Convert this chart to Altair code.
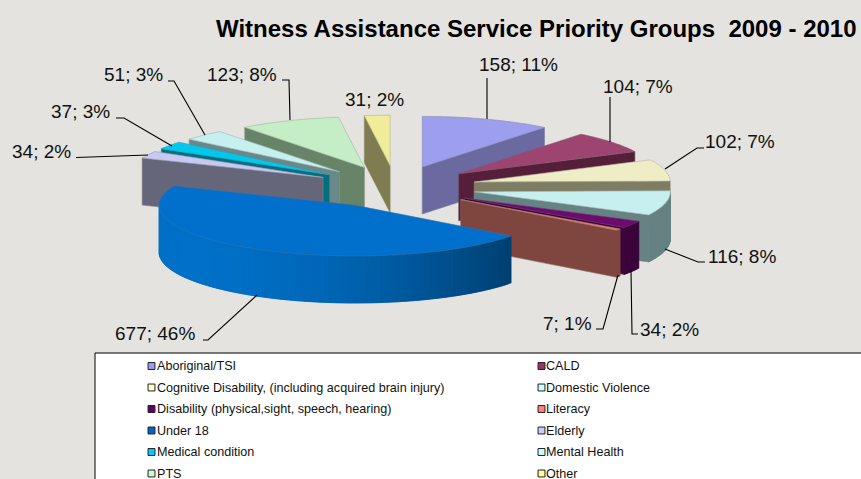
import math
import altair as alt
import pandas as pd

# Slice data, clockwise from twelve o'clock
categories = ["Aboriginal/TSI", "CALD", "Cognitive Disability, (including acquired brain injury)",
              "Domestic Violence", "Disability (physical,sight, speech, hearing)", "Literacy",
              "Under 18", "Elderly", "Medical condition", "Mental Health", "PTS", "Other"]
values = [158, 104, 102, 116, 34, 7, 677, 34, 37, 51, 123, 31]
percents = [11, 7, 7, 8, 2, 1, 46, 2, 3, 3, 8, 2]
top_colors = ["#9E9EEE", "#9E4470", "#EFEDC6", "#C6F0F0", "#6D0A6D", "#E88070",
              "#0070CC", "#C8C8F0", "#00C8EE", "#C6F0F0", "#C6EEC6", "#F0EC9A"]
side_colors = ["#6A6AA0", "#551F3A", "#7E7C62", "#668282", "#3A043A", "#7F4640",
               "#004A85", "#66667A", "#006F80", "#6A8888", "#688468", "#7E7C50"]
legend_colors = ["#9999FF", "#993366", "#FFFFCC", "#CCFFFF", "#660066", "#FF8080",
                 "#0066CC", "#CCCCFF", "#00CCFF", "#CCFFFF", "#CCFFCC", "#FFFF99"]

# Text placement of the value labels: left edge and vertical centre
label_x = [479, 603, 705, 708, 640, 543, 115, 12, 51, 104, 207, 345]
label_y = [65, 87, 142, 257, 330, 324, 334, 152, 112, 75, 75, 100]

# Leader lines as (x, y) vertices; the small "Other" slice has none
leaders = [
    [(487, 78), (487, 119)],
    [(610, 97), (610, 142)],
    [(704, 148), (697, 148), (665, 169)],
    [(705, 262), (698, 262), (665, 249)],
    [(638, 334), (632, 334), (631, 270)],
    [(596, 329), (603, 329), (618, 275)],
    [(203, 340), (208, 340), (257, 295)],
    [(76, 157.5), (148, 155)],
    [(116, 118), (124, 118), (172, 146)],
    [(168, 81), (174, 81), (205, 135)],
    [(282, 80), (289, 80), (290, 120)],
]

# Pie geometry in canvas pixels
CX, CY = 395.5, 187.0
RX, RY = 196.0, 50.6
EX, EY = 81.0, 21.2
DEPTH = 47.0
W, H = 861, 479


def rim(ax, ay, deg):
    t = math.radians(deg)
    return (ax + RX * math.sin(t), ay - RY * math.cos(t))


def poly(points, fill, stroke):
    ring = [[round(x, 2), round(y, 2)] for x, y in points]
    ring.append(ring[0])
    return {"type": "Feature",
            "geometry": {"type": "Polygon", "coordinates": [ring]},
            "properties": {"fill": fill, "stroke": stroke}}


def mix(c1, c2, f):
    a = [int(c1[i:i + 2], 16) for i in (1, 3, 5)]
    b = [int(c2[i:i + 2], 16) for i in (1, 3, 5)]
    return "#%02x%02x%02x" % tuple(round(p + (q - p) * f) for p, q in zip(a, b))


total = sum(values)
slices = []
cum = 0
for i, v in enumerate(values):
    a0 = cum / total * 360
    cum += v
    a1 = cum / total * 360
    slices.append((i, a0, a1, (a0 + a1) / 2))

features = []
# Nearer slices are painted over the ones behind them
for i, a0, a1, mid in sorted(slices, key=lambda s: -math.cos(math.radians(s[3]))):
    ax = CX + EX * math.sin(math.radians(mid))
    ay = CY - EY * math.cos(math.radians(mid))
    side = side_colors[i]
    steps = max(2, int((a1 - a0) / 1.5))
    angles = [a0 + (a1 - a0) * k / steps for k in range(steps + 1)]
    # radial walls that face the viewer
    for deg, visible in ((a0, math.sin(math.radians(a0)) < -1e-6),
                         (a1, math.sin(math.radians(a1)) > 1e-6)):
        if visible:
            px, py = rim(ax, ay, deg)
            features.append(poly([(ax, ay), (px, py), (px, py + DEPTH), (ax, ay + DEPTH)], side,
                                 mix(side, "#A0A09A", 0.35)))
    # outer wall, front half only; each strip overlaps the next to hide seams
    front = [d for d in angles if 90 <= d <= 270]
    for k in range(len(front) - 1):
        d0, d1 = front[k], front[min(k + 2, len(front) - 1)]
        p0, p1 = rim(ax, ay, d0), rim(ax, ay, d1)
        fill = side
        if i == 6:
            f = (p0[0] - (CX - RX)) / (2 * RX * 0.9)
            fill = mix("#0070C8", "#00355E", max(0, min(1, f)) ** 1.7)
        features.append(poly([p0, p1, (p1[0], p1[1] + DEPTH), (p0[0], p0[1] + DEPTH)], fill, fill))
    # top face
    features.append(poly([(ax, ay)] + [rim(ax, ay, d) for d in angles], top_colors[i],
                         mix(top_colors[i], "#707070", 0.45)))

x_scale = alt.Scale(domain=[0, W], range=[0, W], nice=False, zero=False)
y_scale = alt.Scale(domain=[0, H], range=[0, H], nice=False, zero=False)
X = lambda f: alt.X(f, type="quantitative", scale=x_scale, axis=None)
Y = lambda f: alt.Y(f, type="quantitative", scale=y_scale, axis=None)

pie = alt.Chart(alt.InlineData(values=features)).mark_geoshape(strokeWidth=0.6).encode(
    fill=alt.Fill("properties.fill:N", scale=None, legend=None),
    stroke=alt.Stroke("properties.stroke:N", scale=None, legend=None),
).project(type="identity", scale=1, translate=[0, 0])

leader_rows = [{"id": n, "o": k, "x": p[0], "y": p[1]}
               for n, line in enumerate(leaders) for k, p in enumerate(line)]
leader_layer = alt.Chart(pd.DataFrame(leader_rows)).mark_line(color="#000000", strokeWidth=1.1).encode(
    x=X("x"), y=Y("y"), detail="id:N", order="o:Q")

label_df = pd.DataFrame({
    "t": [f"{v}; {p}%" for v, p in zip(values, percents)],
    "x": label_x, "y": label_y})
label_layer = alt.Chart(label_df).mark_text(
    align="left", baseline="middle", font="Liberation Sans", fontSize=19, color="#111111"
).encode(x=X("x"), y=Y("y"), text="t:N")

title_df = pd.DataFrame({"t": ["Witness Assistance Service Priority Groups\u00a0\u00a02009 - 2010"], "x": [216], "y": [30]})
title_layer = alt.Chart(title_df).mark_text(
    align="left", baseline="middle", font="Liberation Sans", fontSize=24, fontWeight="bold", color="#000000"
).encode(x=X("x"), y=Y("y"), text="t:N")

# Legend panel: two columns of swatches and names, running off the canvas
box_df = pd.DataFrame({"x": [95], "x2": [880], "y": [353], "y2": [500]})
box = alt.Chart(box_df).mark_rect(fill="#FFFFFF", stroke="#000000", strokeWidth=1).encode(
    x=X("x"), x2="x2:Q", y=Y("y"), y2="y2:Q")

row_y = [366, 387.5, 409, 430.5, 452, 473.5]
legend_df = pd.DataFrame({
    "t": categories,
    "c": legend_colors,
    "sx": [151.5 if k % 2 == 0 else 541.5 for k in range(12)],
    "tx": [157 if k % 2 == 0 else 546 for k in range(12)],
    "y": [row_y[k // 2] for k in range(12)],
})
swatches = alt.Chart(legend_df).mark_point(shape="square", filled=True, size=48, opacity=1,
                                           stroke="#222222", strokeWidth=1).encode(
    x=X("sx"), y=Y("y"), fill=alt.Fill("c:N", scale=None, legend=None))
legend_text = alt.Chart(legend_df).mark_text(
    align="left", baseline="middle", font="Liberation Sans", fontSize=12.6, color="#111111"
).encode(x=X("tx"), y=Y("y"), text="t:N")

chart = alt.layer(box, pie, leader_layer, label_layer, title_layer, swatches, legend_text).properties(
    width=W, height=H, padding=0, autosize=alt.AutoSizeParams(type="none"), background="#E4E3DF"
).configure_view(stroke=None)

chart.save("out.html", embed_options={"renderer": "svg", "actions": False})
